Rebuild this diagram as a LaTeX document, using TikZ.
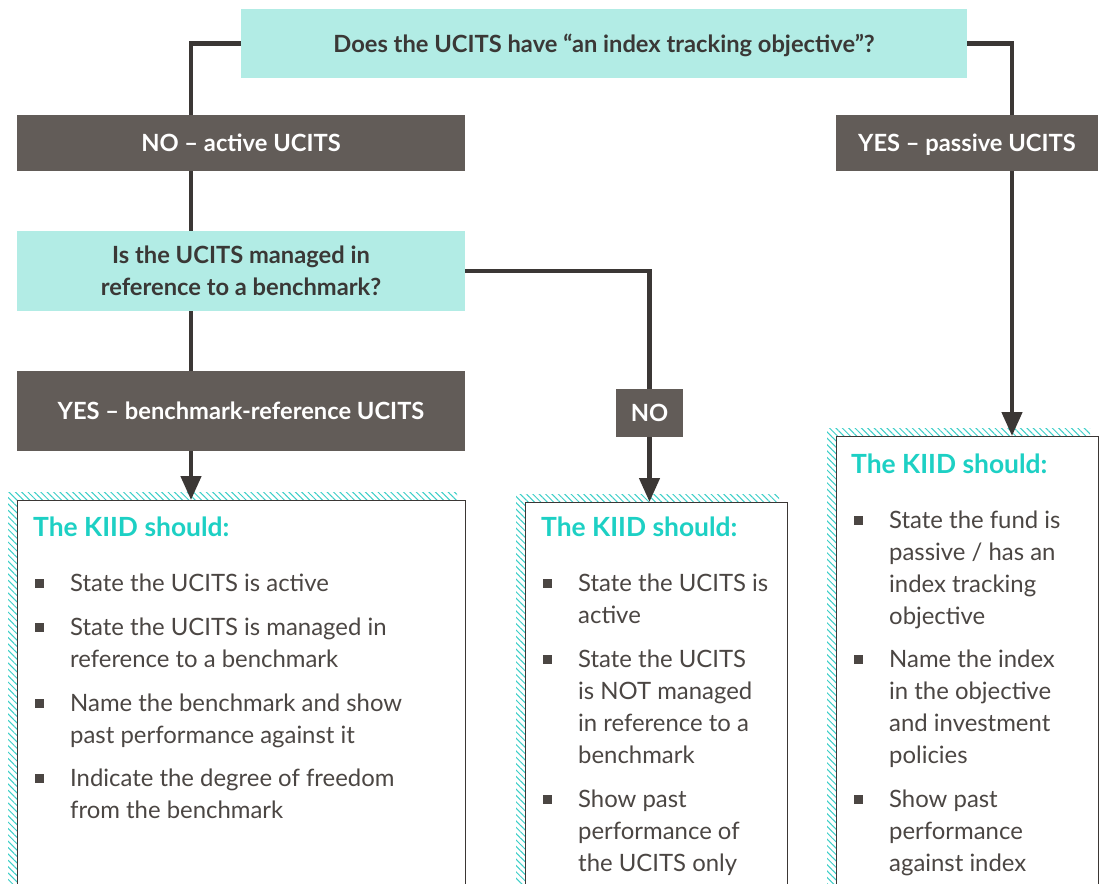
\documentclass[tikz,border=0pt]{standalone}
\usepackage{fontspec}
\setmainfont{Lato}
\usetikzlibrary{arrows.meta,patterns.meta,positioning,calc}
\definecolor{qfill}{HTML}{B2ECE5}
\definecolor{dbox}{HTML}{625C58}
\definecolor{lineC}{HTML}{3B3735}
\definecolor{titleC}{HTML}{1DD0C4}
\definecolor{txtC}{HTML}{4B4643}
\definecolor{qtxt}{HTML}{3A3836}
\definecolor{hatchC}{HTML}{3CCFC8}
\begin{document}
\begin{tikzpicture}[x=1pt,y=-1pt,
  qbox/.style={rectangle,fill=qfill,inner sep=0pt,align=center,text=qtxt,text depth=0pt,font=\fontsize{23.7}{32}\selectfont\bfseries},
  dlabel/.style={rectangle,fill=dbox,inner sep=0pt,align=center,text=white,text depth=0pt,font=\fontsize{23.7}{30}\selectfont\bfseries},
  kbox/.style={rectangle,draw=lineC,line width=1pt,fill=white,inner sep=0pt,anchor=north},
  conn/.style={draw=lineC,line width=4.5pt},
  arr/.style={conn,-{Triangle[width=20pt,length=24pt]}},
  ktitle/.style={anchor=base west,inner sep=0pt,text=titleC,font=\fontsize{26.4}{32}\selectfont\bfseries},
  kitem/.style={anchor=base west,inner sep=0pt,text=txtC,align=left,font=\fontsize{23.9}{32}\selectfont},
  bul/.style={rectangle,fill=txtC,minimum size=9pt,inner sep=0pt}
]
\useasboundingbox (0,0) rectangle (1104,884);
\fill[white] (0,0) rectangle (1104,884);

% hatched shadows
\fill[pattern={Lines[angle=-45,distance=4.5pt,line width=1pt]},pattern color=hatchC] (8,492) rectangle (457,900);
\fill[pattern={Lines[angle=-45,distance=4.5pt,line width=1pt]},pattern color=hatchC] (516,494) rectangle (779,900);
\fill[pattern={Lines[angle=-45,distance=4.5pt,line width=1pt]},pattern color=hatchC] (827,428) rectangle (1090,900);

% nodes
\node[qbox,minimum width=726pt,minimum height=69pt] (top) at (604,43.5) {Does the UCITS have “an index tracking objective”?};
\node[dlabel,minimum width=448pt,minimum height=56pt] (noA) at (241,143) {NO – active UCITS};
\node[dlabel,minimum width=262pt,minimum height=56pt] (yesP) at (967,143) {YES – passive UCITS};
\node[qbox,minimum width=448pt,minimum height=80pt] (q2) at (241,271) {Is the UCITS managed in\\reference to a benchmark?};
\node[dlabel,minimum width=448pt,minimum height=80pt] (yesB) at (241,411) {YES – benchmark-reference UCITS};
\node[dlabel,minimum width=67pt,minimum height=48pt] (noB) at (649.5,413) {NO};

\node[kbox,minimum width=448pt,minimum height=400pt] (k1) at (241,500) {};
\node[kbox,minimum width=262pt,minimum height=400pt] (k2) at (656,502) {};
\node[kbox,minimum width=262pt,minimum height=460pt] (k3) at (967,436) {};

% connectors
\coordinate (tl) at ($(noA.north)+(-50,0)$);
\coordinate (tr) at ($(yesP.north)+(45,0)$);
\draw[conn] (top.west) -| (tl);
\draw[conn] (top.east) -| (tr);
\draw[conn] ($(noA.south)+(-50,0)$) -- ($(q2.north)+(-50,0)$);
\draw[conn] (q2.east) -| (noB.north);
\draw[conn] ($(q2.south)+(-50,0)$) -- ($(yesB.north)+(-50,0)$);
\draw[arr] ($(yesB.south)+(-50,0)$) -- ($(k1.north)+(-50,0)$);
\draw[arr] (noB.south) -- (noB.south |- k2.north);
\draw[arr] ($(yesP.south)+(45,0)$) -- ($(k3.north)+(45,0)$);

% left box content (base anchor = baseline of last line)
\node[ktitle] (t1) at (33,536) {The KIID should:};
\node[kitem] (l1) at (70,591) {State the UCITS is active};
\node[kitem] (l2) at (70,667) {State the UCITS is managed in\\reference to a benchmark};
\node[kitem] (l3) at (70,743) {Name the benchmark and show\\past performance against it};
\node[kitem] (l4) at (70,818) {Indicate the degree of freedom\\from the benchmark};
\node[bul] (b11) at (39,583) {};
\node[bul] (b12) at (39,627) {};
\node[bul] (b13) at (39,703) {};
\node[bul] (b14) at (39,778) {};

% middle box content
\node[ktitle] (t2) at (541,536) {The KIID should:};
\node[kitem] (m1) at (578,623) {State the UCITS is\\active};
\node[kitem] (m2) at (578,763) {State the UCITS\\is NOT managed\\in reference to a\\benchmark};
\node[kitem] (m3) at (578,871) {Show past\\performance of\\the UCITS only};
\node[bul] (b21) at (547,583) {};
\node[bul] (b22) at (547,659) {};
\node[bul] (b23) at (547,799) {};

% right box content
\node[ktitle] (t3) at (851,473) {The KIID should:};
\node[kitem] (r1) at (889,624) {State the fund is\\passive / has an\\index tracking\\objective};
\node[kitem] (r2) at (889,763) {Name the index\\in the objective\\and investment\\policies};
\node[kitem] (r3) at (889,871) {Show past\\performance\\against index};
\node[bul] (b31) at (858,520) {};
\node[bul] (b32) at (858,659) {};
\node[bul] (b33) at (858,799) {};
\end{tikzpicture}
\end{document}
